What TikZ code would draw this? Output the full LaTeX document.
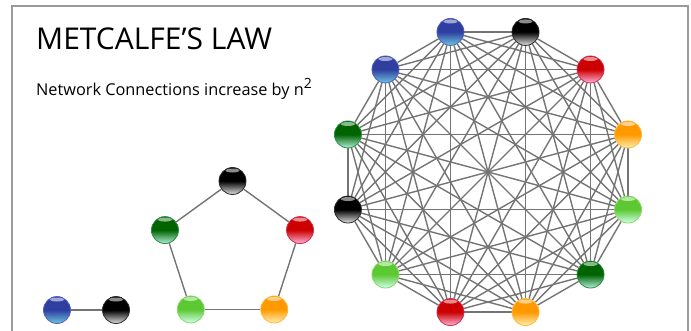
\documentclass[tikz,border=0pt]{standalone}
\usepackage{fontspec}
\usepackage{xcolor}
\usepackage{tikz}
\usetikzlibrary{positioning,calc,backgrounds}
\newfontfamily\lawfont{Open Sans}
\definecolor{frameline}{HTML}{9A9A9A}
\definecolor{linkc}{HTML}{747474}
\definecolor{blueT}{HTML}{2F3FA0}
\definecolor{blueB}{HTML}{6CC6DE}
\definecolor{blueD}{HTML}{5060C0}
\definecolor{blackT}{HTML}{000000}
\definecolor{blackB}{HTML}{E2E2E2}
\definecolor{blackD}{HTML}{2A2A2A}
\definecolor{redT}{HTML}{CC0000}
\definecolor{redB}{HTML}{FFB4D8}
\definecolor{redD}{HTML}{D0305A}
\definecolor{dgreenT}{HTML}{006400}
\definecolor{dgreenB}{HTML}{B4F0DC}
\definecolor{dgreenD}{HTML}{2E8A48}
\definecolor{lgreenT}{HTML}{5CC832}
\definecolor{lgreenB}{HTML}{D2FFF0}
\definecolor{lgreenD}{HTML}{8AD86A}
\definecolor{orangeT}{HTML}{FF9900}
\definecolor{orangeB}{HTML}{FFF0B4}
\definecolor{orangeD}{HTML}{FFB83A}
\tikzset{
  ball/.style={circle, minimum size=27pt, inner sep=0pt, line width=0.8pt, draw=#1D,
               top color=#1T, bottom color=#1B, middle color=#1T,
               path picture={\fill[white, opacity=0.55]
                 ([yshift=-3pt]path picture bounding box.north) ellipse (7pt and 2pt);}},
  link/.style={draw=linkc, line width=1.4pt},
  border/.style={draw=frameline, line width=1.2pt},
  heading/.style={font=\lawfont\fontsize{30}{32}\selectfont, anchor=base west, inner sep=0pt},
  subheading/.style={font=\lawfont\fontsize{16.3}{18}\selectfont, anchor=base west, inner sep=0pt},
}
% ring of twelve, pentagon, pair
\def\rX{488}
\def\rY{158}
\def\rR{145}
\def\pX{232.5}
\def\pY{78}
\def\pR{71}
\newcommand{\ballat}[3]{\node[ball/.expanded=#2] (#1) at (#3) {};}

\begin{document}
\begin{tikzpicture}[x=1pt,y=1pt]
  \useasboundingbox (0,0) rectangle (691,330);
  \draw[border] (12,-5) -- (12,324) -- (688,324) -- (688,-5);
  \node[heading] (title) at (36,280) {METCALFE’S LAW};
  \node[subheading] (sub) at (36,234) {Network Connections increase by n\raisebox{7pt}{\fontsize{14}{15}\selectfont 2}};
  % two users
  \ballat{a1}{blue}{57,20}
  \ballat{a2}{black}{116,20}
  \draw[link] (a1) -- (a2);
  % five users
  \foreach \c [count=\i] in {black,red,orange,lgreen,dgreen}{
    \ballat{p\i}{\c}{$(\pX,\pY)+({90-72*(\i-1)}:\pR)$}
  }
  \begin{scope}[on background layer]
    \foreach \i/\j in {1/2,2/3,3/4,4/5,5/1}
      \draw[link] (p\i) -- (p\j);
  \end{scope}
  % twelve users
  \foreach \c [count=\i] in {orange,lgreen,dgreen,orange,red,lgreen,black,dgreen,blue,blue,black,red}{
    \ballat{r\i}{\c}{$(\rX,\rY)+({15-30*(\i-1)}:\rR)$}
  }
  \begin{scope}[on background layer]
    \foreach \i in {1,...,11}{
      \pgfmathtruncatemacro\nxt{\i+1}
      \foreach \j in {\nxt,...,12}
        \draw[link] (r\i) -- (r\j);
    }
  \end{scope}
\end{tikzpicture}
\end{document}
